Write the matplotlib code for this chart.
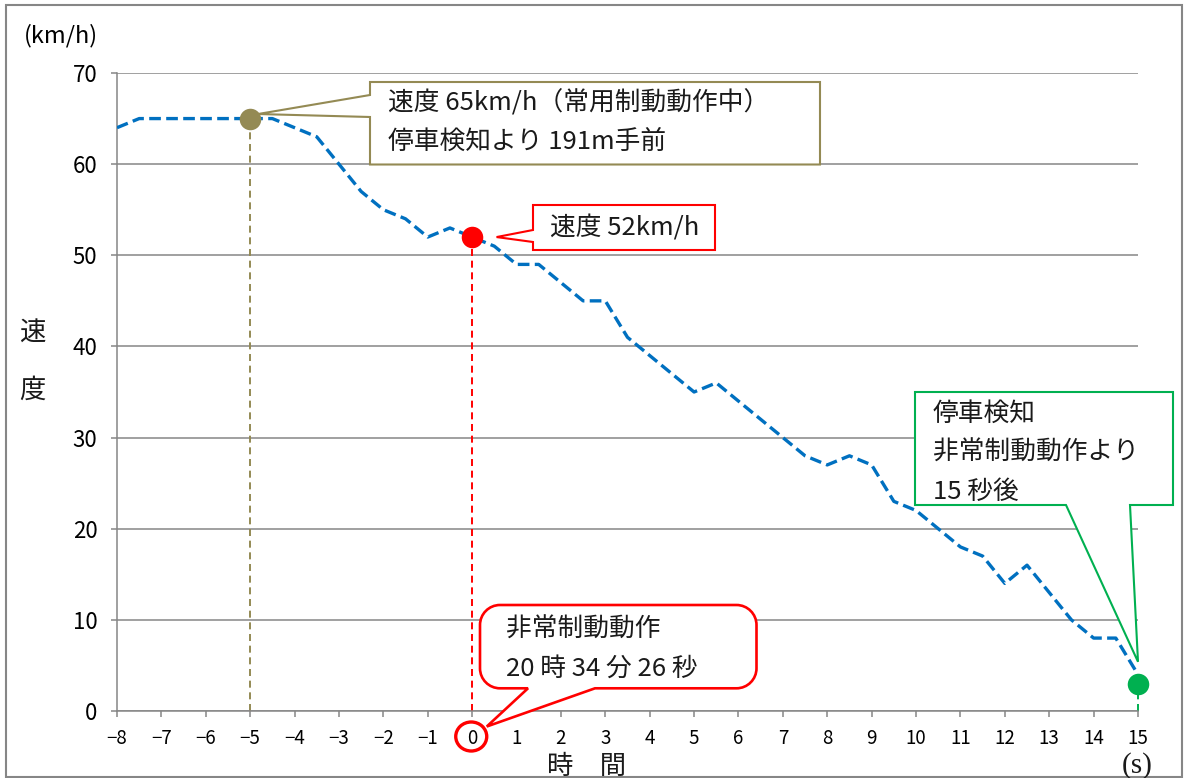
import matplotlib
matplotlib.use('Agg')
import matplotlib.pyplot as plt
from matplotlib.patches import Polygon, Ellipse, Rectangle, PathPatch
from matplotlib.path import Path

plt.rcParams['font.family'] = ['Noto Sans CJK JP', 'DejaVu Sans']

# ---------------- data ----------------
time_s = [-8, -7.5, -7, -6.5, -6, -5.5, -5, -4.5, -4, -3.5, -3, -2.5, -2, -1.5, -1, -0.5,
          0, 0.5, 1, 1.5, 2, 2.5, 3, 3.5, 4, 4.5, 5, 5.5, 6, 6.5, 7, 7.5,
          8, 8.5, 9, 9.5, 10, 10.5, 11, 11.5, 12, 12.5, 13, 13.5, 14, 14.5, 15]
speed_kmh = [64, 65, 65, 65, 65, 65, 65, 65, 64, 63, 60, 57, 55, 54, 52, 53,
             52, 51, 49, 49, 47, 45, 45, 41, 39, 37, 35, 36, 34, 32, 30, 28,
             27, 28, 27, 23, 22, 20, 18, 17, 14, 16, 13, 10, 8, 8, 4]

event_t = [-5, 0, 15]
event_v = [65, 52, 3]

x_ticks = list(range(-8, 16))
y_ticks = [0, 10, 20, 30, 40, 50, 60, 70]

text_olive = "速度 65km/h（常用制動動作中）\n停車検知より 191m手前"
text_red = "速度 52km/h"
text_green = "停車検知\n非常制動動作より\n15 秒後"
text_emergency = "非常制動動作\n20 時 34 分 26 秒"

OLIVE = '#948A54'
RED = '#FF0000'
GREEN = '#00B050'
BLUE = '#0070C0'
GRAY = '#868686'

W, H = 1184, 778
fig = plt.figure(figsize=(W / 100, H / 100), dpi=100)
fig.patch.set_facecolor('white')

def fx(px):
    return px / W

def fy(py):
    return 1 - py / H

ax = fig.add_axes([fx(117), fy(711), fx(1138) - fx(117), fy(73) - fy(711)])
ax.set_xlim(-8, 15)
ax.set_ylim(0, 70)

# px -> data helpers (layout only)
def dx(px):
    return (px - 117) / ((1138 - 117) / 23) - 8

def dy(py):
    return (711 - py) / ((711 - 73) / 70)

# grid & axes styling
ax.set_yticks(y_ticks)
ax.set_xticks(x_ticks)
ax.set_xticklabels([str(v) if v >= 0 else '\u2212' + str(-v) for v in x_ticks])
ax.grid(axis='y', color=GRAY, linewidth=1.1)
ax.set_axisbelow(True)
for s in ['top', 'right']:
    ax.spines[s].set_visible(False)
for s in ['left', 'bottom']:
    ax.spines[s].set_color(GRAY)
    ax.spines[s].set_linewidth(1.1)
ax.tick_params(axis='y', direction='out', length=4.5, width=1.1, color=GRAY,
               labelsize=16, pad=9.5, labelcolor='black')
ax.tick_params(axis='x', direction='out', length=4.5, width=1.1, color=GRAY,
               labelsize=13.5, pad=8, labelcolor='black')

# main speed line
ln, = ax.plot(time_s, speed_kmh, color=BLUE, linewidth=2.4, zorder=3)
ln.set_dashes([3.5, 1.6])
ln.set_dash_capstyle('butt')

# vertical dashed guides + dots
colors = [OLIVE, RED, GREEN]
for t, v, c in zip(event_t, event_v, colors):
    vl, = ax.plot([t, t], [0, v], color=c, linewidth=1.4, zorder=2, clip_on=False)
    vl.set_dashes([3.6, 2.4])
    ax.plot([t], [v], 'o', color=c, markersize=15.5, zorder=6, clip_on=False,
            markeredgewidth=0)

# ---------- callouts ----------
def rect_callout(x0, y0, x1, y1, edge, b1, b2, tip, color, lw):
    if edge == 'left':
        verts = [(x0, y1), (x1, y1), (x1, y0), (x0, y0), (x0, b2), tip, (x0, b1)]
    else:  # bottom
        verts = [(x0, y1), (x1, y1), (x1, y0), (b2, y0), tip, (b1, y0), (x0, y0)]
    p = Polygon(verts, closed=True, facecolor='white', edgecolor=color, linewidth=lw,
                zorder=7, clip_on=False, joinstyle='miter')
    ax.add_patch(p)

# olive
rect_callout(dx(370), dy(164.5), dx(820), dy(82), 'left', dy(95), dy(117),
             (event_t[0] + 0.176, event_v[0] + 0.5), OLIVE, 1.5)
ax.text(dx(388), dy(90), text_olive, fontsize=18.5, va='top', ha='left',
        linespacing=1.62, zorder=8, color='#1a1a1a')

# red rect
rect_callout(dx(533), dy(250), dx(715), dy(205), 'left', dy(230), dy(242),
             (event_t[1] + 0.55, event_v[1]), RED, 1.5)
ax.text(dx(550), dy(228), text_red, fontsize=18.5, va='center', ha='left',
        zorder=8, color='#1a1a1a')

# green
rect_callout(dx(915), dy(505), dx(1173), dy(392), 'bottom', dx(1066), dx(1130),
             (event_t[2], event_v[2] + 2.4), GREEN, 1.5)
ax.text(dx(933), dy(401), text_green, fontsize=18.5, va='top', ha='left',
        linespacing=1.66, zorder=8, color='#1a1a1a')

# red rounded callout (emergency braking)
x0, x1 = dx(480), dx(756.5)
y0, y1 = dy(688.3), dy(605)
rx = dx(137) - dx(117)
ry = dy(691) - dy(711)
k = 0.5523
bx1, bx2 = dx(528), dx(595)
tip = (event_t[1] + 0.33, dy(726.5))
verts = [(x0 + rx, y1), (x1 - rx, y1),
         (x1 - rx + k * rx, y1), (x1, y1 - ry + k * ry), (x1, y1 - ry),
         (x1, y0 + ry),
         (x1, y0 + ry - k * ry), (x1 - rx + k * rx, y0), (x1 - rx, y0),
         (bx2, y0), tip, (bx1, y0), (x0 + rx, y0),
         (x0 + rx - k * rx, y0), (x0, y0 + ry - k * ry), (x0, y0 + ry),
         (x0, y1 - ry),
         (x0, y1 - ry + k * ry), (x0 + rx - k * rx, y1), (x0 + rx, y1),
         (x0 + rx, y1)]
codes = [Path.MOVETO, Path.LINETO,
         Path.CURVE4, Path.CURVE4, Path.CURVE4,
         Path.LINETO,
         Path.CURVE4, Path.CURVE4, Path.CURVE4,
         Path.LINETO, Path.LINETO, Path.LINETO, Path.LINETO,
         Path.CURVE4, Path.CURVE4, Path.CURVE4,
         Path.LINETO,
         Path.CURVE4, Path.CURVE4, Path.CURVE4,
         Path.CLOSEPOLY]
ax.add_patch(PathPatch(Path(verts, codes), facecolor='white', edgecolor=RED,
                       linewidth=1.9, zorder=7, clip_on=False))
ax.text(dx(506), dy(617), text_emergency, fontsize=18.5, va='top', ha='left',
        linespacing=1.62, zorder=8, color='#1a1a1a')

# red circle around "0" tick label
ax.add_patch(Ellipse((event_t[1] - 0.02, dy(736.5)), width=2 * 15.5 / 44.39,
                     height=2 * 14.5 / 9.114, facecolor='none', edgecolor=RED,
                     linewidth=2.4, zorder=9, clip_on=False))

# ---------- labels ----------
fig.text(fx(60.5), fy(36), "(km/h)", fontsize=17, ha='center', va='center')
fig.text(fx(32.5), fy(362), "速\n度", fontsize=19, ha='center', va='center',
         linespacing=2.45, color='#1a1a1a')
fig.text(fx(586.5), fy(753), "時　間", fontsize=19, ha='center', va='top',
         color='#1a1a1a')
fig.text(fx(1136.7), fy(752), "(s)", fontsize=21, ha='center', va='top',
         fontfamily=['Liberation Serif', 'DejaVu Serif'], color='#1a1a1a')

# figure border
fig.patches.append(Rectangle((fx(6), fy(777)), fx(1182) - fx(6), fy(5) - fy(777),
                             transform=fig.transFigure, fill=False, edgecolor=GRAY,
                             linewidth=1.5, zorder=0))

fig.savefig('out.png', dpi=100)
